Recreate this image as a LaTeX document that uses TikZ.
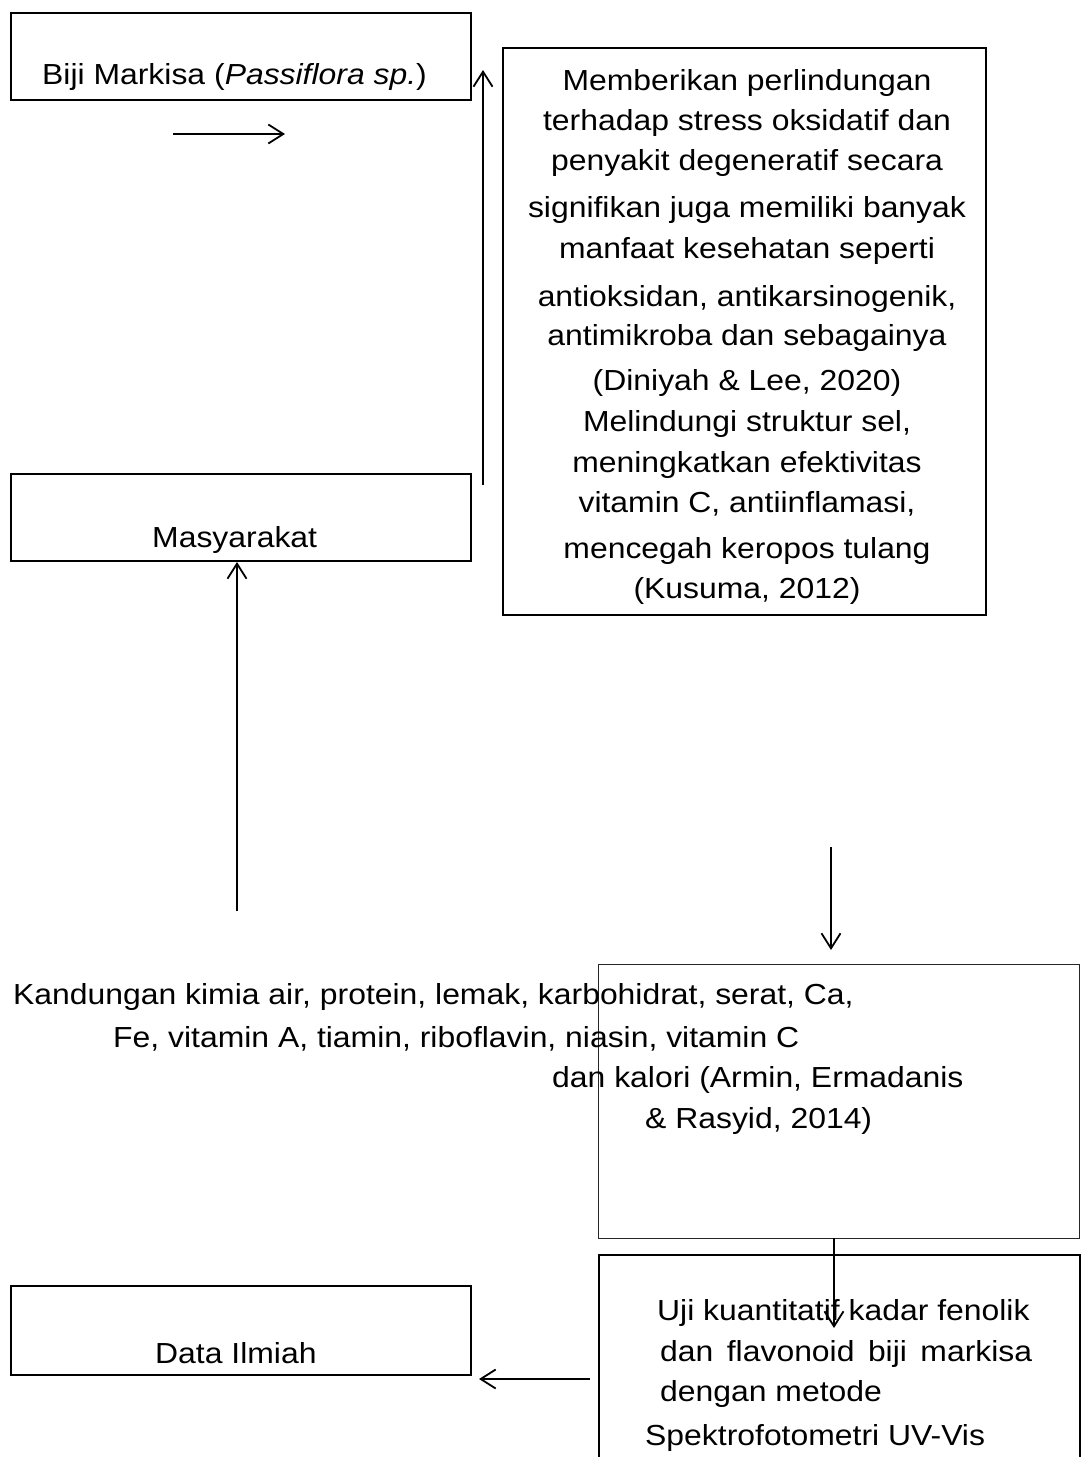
\documentclass[tikz,border=0pt]{standalone}
\usepackage{fontspec}
\setmainfont{Liberation Sans}[FakeStretch=1.1]
\usetikzlibrary{arrows.meta}
\begin{document}
\begin{tikzpicture}[x=1pt,y=-1pt,
  box/.style={draw, line width=2pt, rectangle, inner sep=0pt, anchor=north west},
  thinbox/.style={draw=black!85, line width=1.2pt, rectangle, inner sep=0pt, anchor=north west},
  txt/.style={font=\fontsize{29}{35}\selectfont, inner sep=0pt, anchor=base west},
  ctxt/.style={font=\fontsize{29}{35}\selectfont, inner sep=0pt, anchor=base},
  arr/.style={line width=1.8pt, -{Straight Barb[length=15pt,width=19pt,line width=1.8pt]}}]
\useasboundingbox (0,0) rectangle (1081,1457);
% boxes
\node[box, minimum width=460pt, minimum height=87pt] (biji) at (10,12) {};
\node[box, minimum width=483pt, minimum height=567pt] (manfaat) at (502,47) {};
\node[box, minimum width=460pt, minimum height=87pt] (masy) at (10,473) {};
\node[thinbox, minimum width=481pt, minimum height=274pt] (kand) at (598,964) {};
\node[box, minimum width=481pt, minimum height=240pt] (uji) at (598,1254) {};
\node[box, minimum width=460pt, minimum height=89pt] (data) at (10,1285) {};
% texts
\node[txt] (t1) at (42,84) {Biji Markisa (\textit{Passiflora sp.})};
\node[txt] (t2) at (152,547) {Masyarakat};
\node[txt] (t3) at (155,1363) {Data Ilmiah};
\node[ctxt] (m1) at (747,90) {Memberikan perlindungan};
\node[ctxt] (m2) at (747,130) {terhadap stress oksidatif dan};
\node[ctxt] (m3) at (747,170) {penyakit degeneratif secara};
\node[ctxt] (m4) at (747,217) {signifikan juga memiliki banyak};
\node[ctxt] (m5) at (747,258) {manfaat kesehatan seperti};
\node[ctxt] (m6) at (747,306) {antioksidan, antikarsinogenik,};
\node[ctxt] (m7) at (747,345) {antimikroba dan sebagainya};
\node[ctxt] (m8) at (747,390) {(Diniyah \& Lee, 2020)};
\node[ctxt] (m9) at (747,431) {Melindungi struktur sel,};
\node[ctxt] (m10) at (747,472) {meningkatkan efektivitas};
\node[ctxt] (m11) at (747,512) {vitamin C, antiinflamasi,};
\node[ctxt] (m12) at (747,558) {mencegah keropos tulang};
\node[ctxt] (m13) at (747,598) {(Kusuma, 2012)};
\node[txt] (k1) at (13,1004) {Kandungan kimia air, protein, lemak, karbohidrat, serat, Ca,};
\node[txt] (k2) at (113,1047) {Fe, vitamin A, tiamin, riboflavin, niasin, vitamin C};
\node[txt] (k3) at (552,1087) {dan kalori (Armin, Ermadanis};
\node[txt] (k4) at (645,1128) {\& Rasyid, 2014)};
\node[txt] (u1) at (657,1320) {Uji kuantitatif kadar fenolik};
\node[txt] (u2) at (660,1361) {\makebox[372pt][s]{dan flavonoid biji markisa}};
\node[txt] (u3) at (660,1401) {dengan metode};
\node[txt] (u4) at (645,1445) {Spektrofotometri UV-Vis};
% connector end points
\coordinate (a1s) at (173,134);
\coordinate (a1e) at (285,134);
\coordinate (a2s) at (483,485);
\coordinate (a2e) at (483,70);
\coordinate (a3s) at (237,911);
\coordinate (a3e) at (237,562);
\coordinate (a4s) at (831,847);
\coordinate (a4e) at (831,950);
\coordinate (a5s) at (834,1238);
\coordinate (a5e) at (834,1328);
\coordinate (a6s) at (590,1379);
\coordinate (a6e) at (479,1379);
% connectors
\draw[arr] (a1s) -- (a1e);
\draw[arr] (a2s) -- (a2e);
\draw[arr] (a3s) -- (a3e);
\draw[arr] (a4s) -- (a4e);
\draw[arr] (a5s) -- (a5e);
\draw[arr] (a6s) -- (a6e);
\end{tikzpicture}
\end{document}
